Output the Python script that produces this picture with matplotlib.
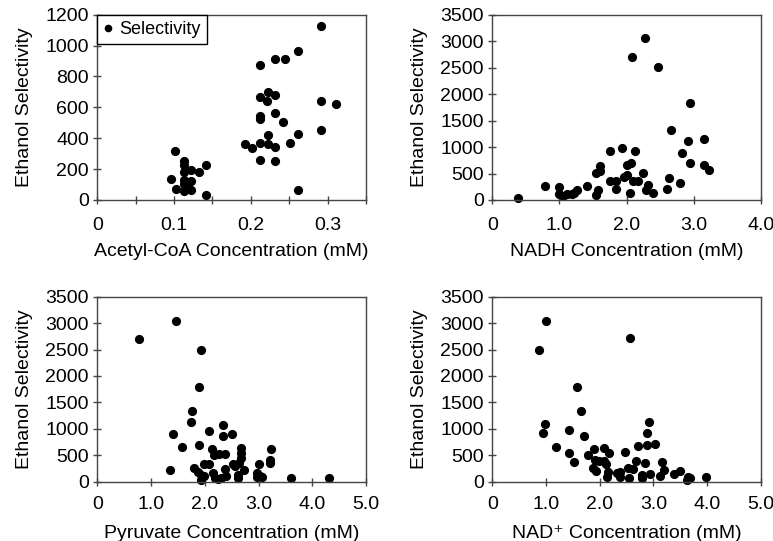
import matplotlib
matplotlib.use('Agg')
import matplotlib.pyplot as plt

plt.rcParams['font.family'] = ['Liberation Sans', 'DejaVu Sans']

# Acetyl-CoA panel
acoa_x = [0.292, 0.262, 0.212, 0.231, 0.244, 0.212, 0.222, 0.221, 0.232, 0.292, 0.311,
          0.212, 0.212, 0.232, 0.242, 0.292, 0.222, 0.262, 0.192, 0.202, 0.212, 0.222,
          0.232, 0.251, 0.212, 0.232, 0.262, 0.101, 0.113, 0.113, 0.122, 0.113, 0.132,
          0.142, 0.096, 0.113, 0.122, 0.113, 0.117, 0.102, 0.113, 0.122, 0.142]
acoa_y = [1130, 968, 874, 914, 914, 664, 701, 640, 681, 642, 621,
          545, 523, 562, 506, 456, 421, 430, 362, 338, 367, 360,
          345, 369, 260, 252, 67, 317, 252, 226, 193, 180, 182,
          224, 135, 130, 126, 102, 95, 69, 59, 67, 30]

# NADH panel
nadh_x = [0.39, 0.79, 0.99, 0.99, 1.06, 1.12, 1.19, 1.22, 1.26, 1.41, 1.54, 1.61, 1.60,
          1.58, 1.55, 1.76, 1.76, 1.84, 1.85, 1.93, 1.97, 2.01, 2.01, 2.06, 2.12, 2.09,
          2.17, 2.24, 2.05, 2.08, 2.27, 2.47, 2.32, 2.29, 2.40, 2.60, 2.64, 2.67, 2.80,
          2.83, 2.92, 2.95, 2.95, 3.16, 3.15, 3.23]
nadh_y = [44, 260, 247, 108, 76, 120, 114, 127, 184, 260, 519, 633, 544,
          190, 89, 924, 361, 361, 209, 981, 430, 481, 665, 690, 924, 361,
          361, 519, 139, 2703, 3063, 2513, 278, 190, 139, 215, 424, 1329, 323,
          880, 1108, 1823, 690, 1146, 652, 576]

# Pyruvate panel
pyr_x = [0.78, 1.46, 1.93, 1.89, 1.77, 1.74, 1.40, 1.58, 1.36, 1.89, 2.08, 2.34, 2.33,
         2.51, 2.14, 2.17, 2.26, 2.37, 2.67, 2.67, 2.67, 3.24, 3.22, 3.22, 1.99, 2.08,
         2.52, 2.57, 2.64, 1.80, 1.88, 1.93, 1.99, 1.93, 2.15, 2.19, 2.25, 2.31, 2.40,
         2.38, 2.62, 2.61, 2.73, 3.00, 2.97, 2.97, 3.02, 3.06, 3.60, 4.32]
pyr_y = [2708, 3044, 2492, 1801, 1338, 1122, 907, 659, 222, 691, 951, 1078, 862,
         900, 615, 507, 533, 533, 647, 552, 456, 628, 412, 361, 342, 342,
         342, 304, 361, 266, 178, 120, 101, 25, 165, 63, 57, 70, 108,
         241, 133, 76, 222, 342, 171, 89, 114, 95, 63, 63]

# NAD+ panel
nad_x = [1.00, 0.87, 2.57, 1.57, 1.66, 0.99, 0.94, 1.42, 1.70, 1.19, 1.42, 1.53, 1.78,
         1.89, 2.08, 2.17, 1.92, 1.99, 2.08, 2.12, 1.88, 1.93, 2.15, 2.14, 2.32, 2.38,
         2.38, 2.48, 2.52, 2.63, 2.54, 2.68, 2.72, 2.84, 2.88, 2.89, 2.92, 3.03, 2.78,
         2.79, 2.93, 3.16, 3.20, 3.12, 3.38, 3.50, 3.64, 3.69, 3.62, 3.98]
nad_y = [3044, 2498, 2714, 1801, 1338, 1091, 919, 983, 869, 653, 539, 374, 514,
         621, 647, 545, 418, 393, 393, 330, 266, 203, 178, 95, 159, 190,
         95, 571, 266, 241, 70, 387, 666, 355, 685, 919, 1135, 704, 127,
         76, 146, 374, 222, 108, 146, 209, 95, 76, 38, 82]

fig = plt.figure(figsize=(7.73, 5.41), dpi=100)
W, H = 773, 541
FS = 14

def make_ax(l, r, t, b):
    return fig.add_axes([l / W, 1 - b / H, (r - l) / W, (b - t) / H])

ax1 = make_ax(97.3, 366, 14.7, 200)
ax2 = make_ax(492.3, 760.7, 14.7, 200)
ax3 = make_ax(97.3, 366, 296.7, 481.7)
ax4 = make_ax(492.3, 760.7, 296.7, 481.7)

panels = [
    (ax1, acoa_x, acoa_y, 'Acetyl-CoA Concentration (mM)', 9, 7),
    (ax2, nadh_x, nadh_y, 'NADH Concentration (mM)', 9, 7),
    (ax3, pyr_x, pyr_y, 'Pyruvate Concentration (mM)', 7.5, 8.5),
    (ax4, nad_x, nad_y, 'NAD⁺ Concentration (mM)', 7.5, 8.5),
]

for ax, x, y, xl, xpad, xlpad in panels:
    ax.plot(x, y, 'o', color='black', markersize=5.6, label='Selectivity', clip_on=False)
    ax.set_xlabel(xl, fontsize=FS, labelpad=xlpad)
    ax.set_ylabel('Ethanol Selectivity', fontsize=FS, labelpad=9)
    for s in ax.spines.values():
        s.set_color('#444444')
        s.set_linewidth(1.0)
    ax.tick_params(direction='inout', length=6, width=1.0, color='#444444',
                   labelsize=FS, pad=3)
    ax.tick_params(axis='x', pad=xpad)

ax1.set_xlim(0, 0.35)
ax1.set_ylim(0, 1200)
ax1.set_xticks([0, 0.05, 0.1, 0.15, 0.2, 0.25, 0.3, 0.35])
ax1.set_xticklabels(['0', '', '0.1', '', '0.2', '', '0.3', ''])
ax1.set_yticks(range(0, 1201, 200))
leg = ax1.legend(loc='upper left', borderaxespad=0, fancybox=False, framealpha=1,
                 edgecolor='black', handlelength=0.5, handletextpad=0.35,
                 borderpad=0.35, fontsize=13, markerscale=0.8)
leg.get_frame().set_linewidth(1.0)

ax2.set_xlim(0, 4)
ax2.set_ylim(0, 3500)
ax2.set_xticks([0, 1, 2, 3, 4])
ax2.set_xticklabels(['0', '1.0', '2.0', '3.0', '4.0'])
ax2.set_yticks(range(0, 3501, 500))

for ax in (ax3, ax4):
    ax.set_xlim(0, 5)
    ax.set_ylim(0, 3500)
    ax.set_xticks([0, 1, 2, 3, 4, 5])
    ax.set_xticklabels(['0', '1.0', '2.0', '3.0', '4.0', '5.0'])
    ax.set_yticks(range(0, 3501, 500))

fig.savefig('out.png', dpi=100)
